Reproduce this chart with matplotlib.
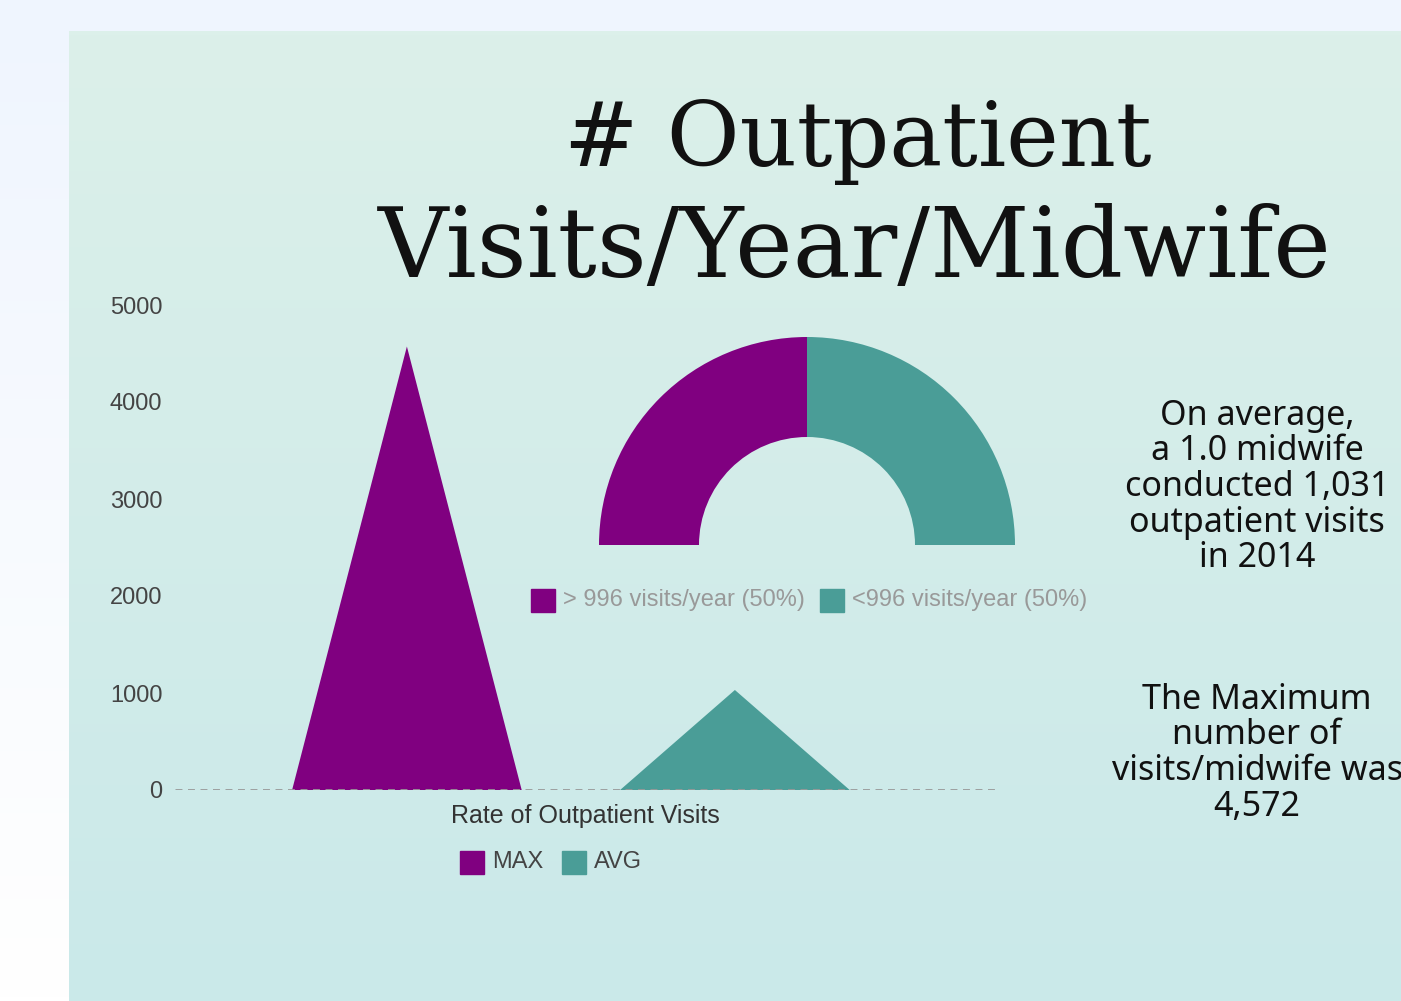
import numpy as np
import matplotlib
matplotlib.use("Agg")
import matplotlib.pyplot as plt
from matplotlib.patches import Rectangle

# ---------------- data ----------------
title_lines = ["# Outpatient", "Visits/Year/Midwife"]
categories = ["MAX", "AVG"]
values = [4572, 1031]
axis_title = "Rate of Outpatient Visits"
yticks = [0, 1000, 2000, 3000, 4000, 5000]

donut_labels = ["> 996 visits/year (50%)", "<996 visits/year (50%)"]
donut_shares = [50, 50]

note_avg = ["On average,", "a 1.0 midwife", "conducted 1,031", "outpatient visits", "in 2014"]
note_max = ["The Maximum", "number of", "visits/midwife was", "4,572"]

PURPLE = "#800080"
TEAL = "#4a9d97"
colors = [PURPLE, TEAL]

W, H = 1401, 1001
fig = plt.figure(figsize=(W / 100, H / 100), dpi=100)


def fx(x):
    return x / W


def fy(y):
    return 1 - y / H


# ---------------- backgrounds ----------------
bg = fig.add_axes([0, 0, 1, 1], zorder=-10)
bg.set_axis_off()
g = np.linspace(0, 1, 256)[:, None, None]
top = np.array([239, 245, 254]) / 255
bot = np.array([255, 255, 255]) / 255
img = top * (1 - g) + bot * g
bg.imshow(np.repeat(img, 2, axis=1), extent=[0, W, H, 0], aspect="auto")
ptop = np.array([220, 240, 234]) / 255
pbot = np.array([202, 233, 233]) / 255
pimg = ptop * (1 - g) + pbot * g
bg.imshow(np.repeat(pimg, 2, axis=1), extent=[69, W, H, 31], aspect="auto")
bg.set_xlim(0, W)
bg.set_ylim(H, 0)

# ---------------- title ----------------
title_font = "DejaVu Serif"
fig.text(fx(858), fy(166), title_lines[0], ha="center", va="baseline",
         fontsize=64, family=title_font, color="#111111")
fig.text(fx(855), fy(277), title_lines[1], ha="center", va="baseline",
         fontsize=70, family=title_font, color="#111111")

# ---------------- triangle chart ----------------
ax = fig.add_axes([fx(175), fy(790), fx(995) - fx(175), fy(305) - fy(790)])
ax.set_facecolor("none")
half_w = 0.35
for i, (v, c) in enumerate(zip(values, colors)):
    ax.fill([i - half_w, i, i + half_w], [0, v, 0], color=c, lw=0, zorder=2)
ax.set_xlim(-0.707, 1.793)
ax.set_ylim(0, 5000)
ax.axhline(0, color="#999999", lw=2, ls=(0, (2.5, 2)), zorder=3)
for s in ax.spines.values():
    s.set_visible(False)
ax.set_xticks([])
ax.set_yticks(yticks)
ax.set_yticklabels([str(t) for t in yticks], family="Liberation Sans",
                   fontsize=17, color="#444444")
ax.tick_params(axis="y", length=0, pad=9)
ax.set_xlabel(axis_title, family="Liberation Sans", fontsize=18,
              color="#333333", labelpad=10)

# MAX / AVG legend
lx = 460
for lab, c in zip(categories, colors):
    fig.patches.append(Rectangle((fx(lx), fy(874)), fx(24), 23 / H,
                                 transform=fig.transFigure, color=c))
    fig.text(fx(lx + 32), fy(862), lab, ha="left", va="center",
             family="Liberation Sans", fontsize=17, color="#444444")
    lx += 102

# ---------------- half donut ----------------
R = 208
cx, cy = 807, 545
ax2 = fig.add_axes([fx(cx - R), fy(cy + R), 2 * R / W, 2 * R / H])
ax2.set_facecolor("none")
wedges, _ = ax2.pie(donut_shares + [sum(donut_shares)],
                    colors=colors + ["none"], startangle=180,
                    counterclock=False, radius=1.0,
                    wedgeprops=dict(width=1 - 108 / R, linewidth=0))
wedges[-1].set_visible(False)
ax2.set_xlim(-1, 1)
ax2.set_ylim(-1, 1)
ax2.set_axis_off()

# donut legend
pos = [531, 820]
for lab, c, x0 in zip(donut_labels, colors, pos):
    fig.patches.append(Rectangle((fx(x0), fy(612)), fx(24), 23 / H,
                                 transform=fig.transFigure, color=c))
    fig.text(fx(x0 + 32), fy(600), lab, ha="left", va="center",
             family="Liberation Sans", fontsize=17, color="#999999")

# ---------------- notes ----------------
note_font = ["Noto Sans", "DejaVu Sans"]
for k, line in enumerate(note_avg):
    fig.text(fx(1257), fy(425 + 35.5 * k), line, ha="center", va="baseline",
             fontsize=24.5, family=note_font, color="#111111")
for k, line in enumerate(note_max):
    fig.text(fx(1257), fy(709 + 35.5 * k), line, ha="center", va="baseline",
             fontsize=24.5, family=note_font, color="#111111")

fig.savefig("out.png", dpi=100)
